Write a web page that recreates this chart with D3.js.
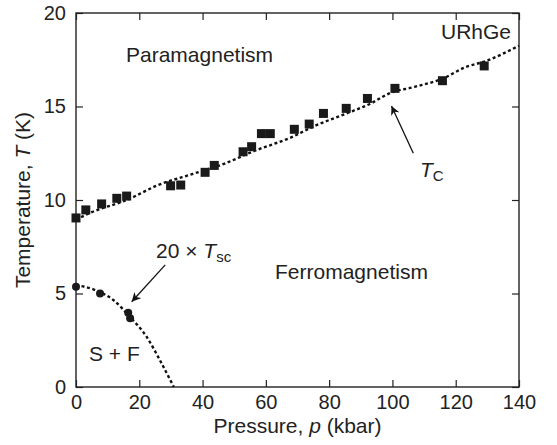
<!DOCTYPE html>
<html>
<head>
<meta charset="utf-8">
<script src="https://cdn.jsdelivr.net/npm/d3@7"></script>
<style>
  body { margin: 0; background: #fff; }
  svg { font-family: "Liberation Sans", Arial, sans-serif; }
</style>
</head>
<body>
<div id="chart"></div>
<script>
// T_C measurements (kbar, K)
const tcPressure = [0, 3.1, 8.1, 12.9, 16.0, 29.9, 33.1, 40.8, 43.7, 52.8, 55.5, 58.6, 61.4, 69.0, 73.7, 78.2, 85.4, 92.1, 100.8, 115.8, 129.0];
const tcTemp     = [9.04, 9.47, 9.79, 10.09, 10.21, 10.76, 10.8, 11.48, 11.85, 12.58, 12.85, 13.55, 13.55, 13.78, 14.06, 14.63, 14.9, 15.43, 15.97, 16.38, 17.17];

// 20 x T_sc measurements
const scPressure = [0, 7.6, 16.5, 17.1];
const scTemp     = [5.36, 5.0, 3.97, 3.67];

// dotted guide lines
const tcFitP = [0, 5, 16, 26, 37, 47, 56, 68, 76, 85, 93, 99, 107, 116, 123, 129, 140];
const tcFitT = [8.95, 9.35, 10.0, 10.8, 11.4, 11.95, 12.6, 13.35, 14.0, 14.6, 15.15, 15.7, 16.05, 16.5, 17.1, 17.4, 18.25];
const scFitP = [0, 5.5, 11.8, 17, 22.3, 26.5, 30.9];
const scFitT = [5.45, 5.22, 4.65, 3.76, 2.69, 1.44, 0];

const xTicks = [0, 20, 40, 60, 80, 100, 120, 140];
const yTicks = [0, 5, 10, 15, 20];

const width = 557, height = 445;
const margin = {top: 13, right: 38, bottom: 58, left: 76};
const iw = width - margin.left - margin.right;
const ih = height - margin.top - margin.bottom;
const fs = 21;

const x = d3.scaleLinear().domain([0, 140]).range([0, iw]);
const y = d3.scaleLinear().domain([0, 20]).range([ih, 0]);

const svg = d3.select("#chart").append("svg")
    .attr("width", width)
    .attr("height", height);

svg.append("defs").append("marker")
    .attr("id", "arrow")
    .attr("viewBox", "0 0 10 10")
    .attr("refX", 10).attr("refY", 5)
    .attr("markerWidth", 10).attr("markerHeight", 9)
    .attr("markerUnits", "userSpaceOnUse")
    .attr("orient", "auto")
  .append("path")
    .attr("d", "M0,0 L10,5 L0,10 L3,5 Z")
    .attr("fill", "#111");

const g = svg.append("g").attr("transform", `translate(${margin.left},${margin.top})`);

const tickStyle = (sel) => {
  sel.select(".domain").remove();
  sel.selectAll(".tick line").attr("stroke", "#222").attr("stroke-width", 1.2);
  sel.selectAll(".tick text").attr("fill", "#222").attr("font-size", 20);
};

g.append("g").attr("transform", `translate(0,${ih})`)
    .call(d3.axisBottom(x).tickValues(xTicks).tickSizeInner(-7).tickSizeOuter(0).tickPadding(8))
    .call(tickStyle);
g.append("g")
    .call(d3.axisTop(x).tickValues(xTicks).tickSizeInner(-7).tickSizeOuter(0).tickFormat(""))
    .call(tickStyle);
g.append("g")
    .call(d3.axisLeft(y).tickValues(yTicks).tickSizeInner(-7).tickSizeOuter(0).tickPadding(10))
    .call(tickStyle);
g.append("g").attr("transform", `translate(${iw},0)`)
    .call(d3.axisRight(y).tickValues(yTicks).tickSizeInner(-7).tickSizeOuter(0).tickFormat(""))
    .call(tickStyle);

g.append("rect")
    .attr("width", iw).attr("height", ih)
    .attr("fill", "none").attr("stroke", "#222").attr("stroke-width", 1.4);

const line = d3.line().x(d => x(d[0])).y(d => y(d[1])).curve(d3.curveMonotoneX);

g.append("path")
    .attr("d", line(d3.zip(tcFitP, tcFitT)))
    .attr("fill", "none").attr("stroke", "#111")
    .attr("stroke-width", 2.4).attr("stroke-dasharray", "3,2.6");

g.append("path")
    .attr("d", line(d3.zip(scFitP, scFitT)))
    .attr("fill", "none").attr("stroke", "#111")
    .attr("stroke-width", 2.4).attr("stroke-dasharray", "3,2.6");

const sq = 9;
g.selectAll("rect.tc")
  .data(d3.zip(tcPressure, tcTemp))
  .join("rect")
    .attr("class", "tc")
    .attr("x", d => x(d[0]) - sq / 2)
    .attr("y", d => y(d[1]) - sq / 2)
    .attr("width", sq).attr("height", sq)
    .attr("fill", "#1a1a1a");

g.selectAll("circle.sc")
  .data(d3.zip(scPressure, scTemp))
  .join("circle")
    .attr("class", "sc")
    .attr("cx", d => x(d[0]))
    .attr("cy", d => y(d[1]))
    .attr("r", 4)
    .attr("fill", "#1a1a1a");

// arrows
const arrow = (p0, t0, p1, t1) => g.append("line")
    .attr("x1", x(p0)).attr("y1", y(t0))
    .attr("x2", x(p1)).attr("y2", y(t1))
    .attr("stroke", "#111").attr("stroke-width", 1.3)
    .attr("marker-end", "url(#arrow)");
arrow(28.2, 6.53, 17.6, 4.56);
arrow(106.6, 12.5, 99.7, 15.03);

// labels
const label = (px, py, txt) => svg.append("text")
    .attr("x", px).attr("y", py)
    .attr("font-size", fs).attr("fill", "#222")
    .text(txt);

label(126, 62, "Paramagnetism");
label(441, 39, "URhGe");
label(275, 279, "Ferromagnetism");
label(89, 361, "S + F");

const sc = svg.append("text").attr("x", 156).attr("y", 258).attr("font-size", fs).attr("fill", "#222");
sc.append("tspan").text("20 \u00d7 ");
sc.append("tspan").attr("font-style", "italic").text("T");
sc.append("tspan").attr("font-size", 15).attr("dy", 4).text("sc");

const tc = svg.append("text").attr("x", 420).attr("y", 177).attr("font-size", fs).attr("fill", "#222");
tc.append("tspan").attr("font-style", "italic").text("T");
tc.append("tspan").attr("font-size", 15).attr("dy", 4).text("C");

const xl = svg.append("text")
    .attr("x", margin.left + iw / 2).attr("y", 433)
    .attr("text-anchor", "middle").attr("font-size", fs).attr("fill", "#222");
xl.append("tspan").text("Pressure, ");
xl.append("tspan").attr("font-style", "italic").text("p");
xl.append("tspan").text(" (kbar)");

const yl = svg.append("text")
    .attr("transform", `translate(30,${margin.top + ih / 2}) rotate(-90)`)
    .attr("text-anchor", "middle").attr("font-size", fs).attr("fill", "#222");
yl.append("tspan").text("Temperature, ");
yl.append("tspan").attr("font-style", "italic").text("T");
yl.append("tspan").text(" (K)");
</script>
</body>
</html>
